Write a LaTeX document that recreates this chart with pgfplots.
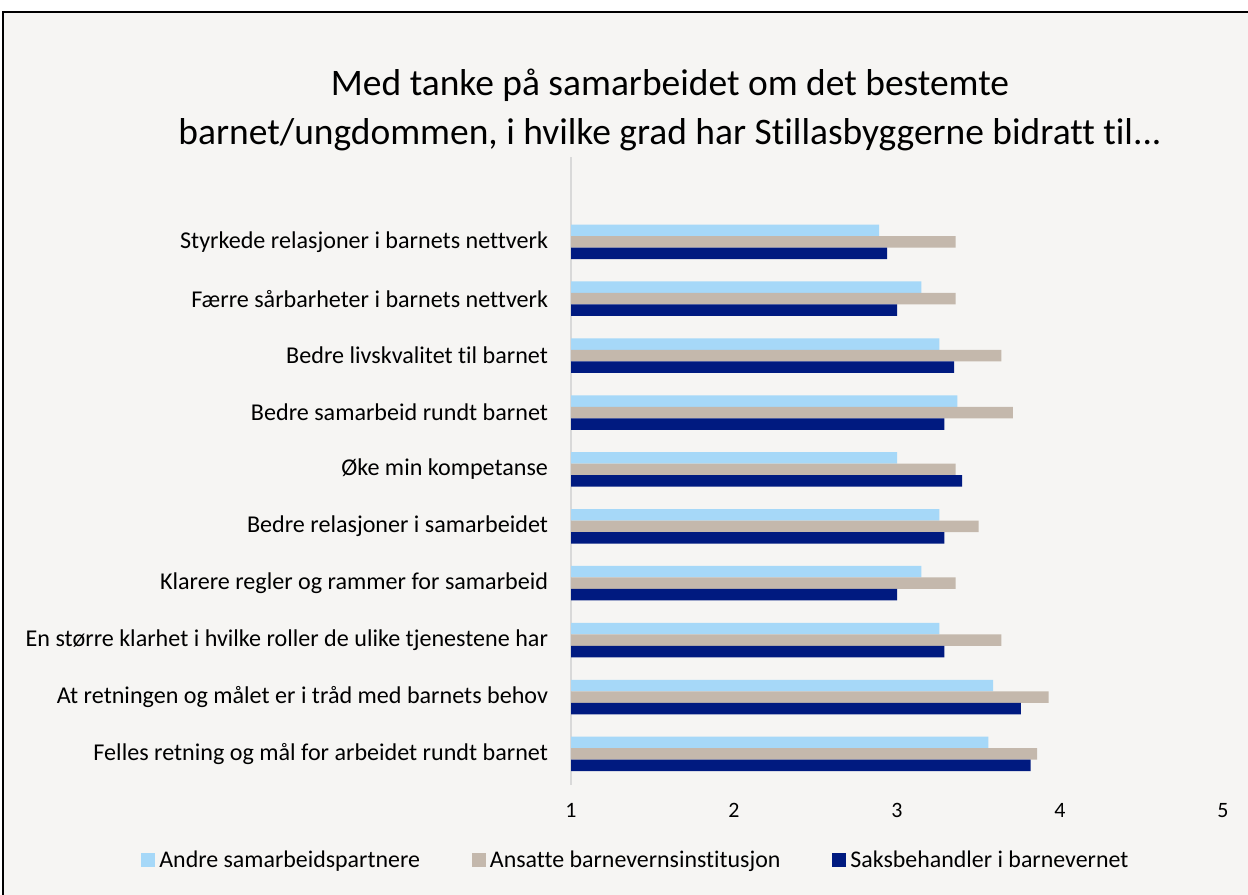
\documentclass[border=0pt]{standalone}
\usepackage{fontspec}
\setmainfont{Carlito}[Ligatures=NoCommon]
\usepackage{pgfplots}
\pgfplotsset{compat=1.18}
\definecolor{bgpaper}{HTML}{F6F5F3}
\definecolor{lightblue}{HTML}{A6D8F8}
\definecolor{tanbar}{HTML}{C4B8AC}
\definecolor{navybar}{HTML}{001A80}
\definecolor{axisgray}{HTML}{D9D9D9}

\begin{document}
\begin{tikzpicture}[x=1bp,y=1bp]
  % page and frame
  \path[use as bounding box] (0,0) rectangle (624,447.5);
  \fill[bgpaper] (1.5,0) rectangle (624,441.5);
  \draw[line width=0.8bp] (1.5,0) -- (1.5,441.5) -- (624,441.5);

  \node[align=center, font=\fontsize{18.8}{25}\selectfont] at (335,392.5)
    {Med tanke på samarbeidet om det bestemte\\
     barnet/ungdommen, i hvilke grad har Stillasbyggerne bidratt til...};

  \begin{axis}[
    at={(285.5bp,55bp)}, anchor=south west,
    scale only axis,
    width=326bp, height=314bp,
    xbar, bar width=5.75bp,
    xmin=1, xmax=5,
    ymin=-0.545, ymax=10.49,
    xtick={1,2,3,4,5},
    ytick={0,...,9},
    yticklabels={
      Felles retning og mål for arbeidet rundt barnet,
      At retningen og målet er i tråd med barnets behov,
      En større klarhet i hvilke roller de ulike tjenestene har,
      Klarere regler og rammer for samarbeid,
      Bedre relasjoner i samarbeidet,
      Øke min kompetanse,
      Bedre samarbeid rundt barnet,
      Bedre livskvalitet til barnet,
      Færre sårbarheter i barnets nettverk,
      Styrkede relasjoner i barnets nettverk},
    major tick length=0pt,
    axis lines*=left,
    x axis line style={draw=none},
    y axis line style={axisgray, line width=1bp},
    yticklabel style={font=\fontsize{12.1}{14}\selectfont, xshift=-8bp},
    xticklabel style={font=\fontsize{11}{13}\selectfont, yshift=-5.5bp},
    /pgf/number format/assume math mode=true,
    legend columns=3,
    legend style={at={(0.101,-0.12)}, anchor=center, draw=none, fill=none,
      font=\fontsize{12}{14}\selectfont,
      /tikz/every even column/.append style={column sep=24bp}},
    legend image code/.code={\fill[#1] (0bp,-3.2bp) rectangle (7bp,3.8bp);},
  ]
  \addplot[fill=lightblue, draw=none, bar shift=5.75bp] coordinates {
    (3.56,0) (3.59,1) (3.26,2) (3.15,3) (3.26,4)
    (3.00,5) (3.37,6) (3.26,7) (3.15,8) (2.89,9)};
  \addplot[fill=tanbar, draw=none, bar shift=0bp] coordinates {
    (3.86,0) (3.93,1) (3.64,2) (3.36,3) (3.50,4)
    (3.36,5) (3.71,6) (3.64,7) (3.36,8) (3.36,9)};
  \addplot[fill=navybar, draw=none, bar shift=-5.75bp] coordinates {
    (3.82,0) (3.76,1) (3.29,2) (3.00,3) (3.29,4)
    (3.40,5) (3.29,6) (3.35,7) (3.00,8) (2.94,9)};
  \legend{Andre samarbeidspartnere, Ansatte barnevernsinstitusjon, Saksbehandler i barnevernet}
  \end{axis}
\end{tikzpicture}
\end{document}
